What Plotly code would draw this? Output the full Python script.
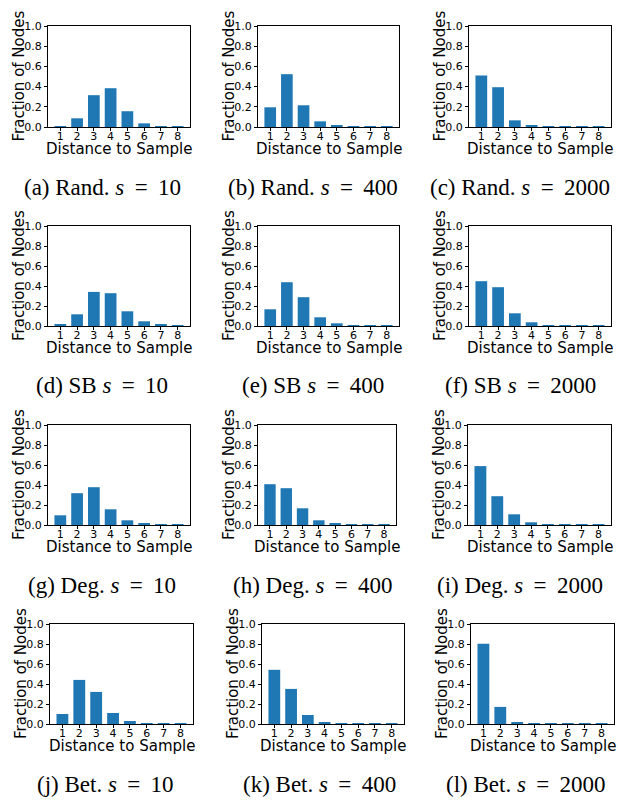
import plotly.graph_objects as go

distances = [1, 2, 3, 4, 5, 6, 7, 8]
x_tick_labels = ["1", "2", "3", "4", "5", "6", "7", "8"]
y_tick_vals = [0.0, 0.2, 0.4, 0.6, 0.8, 1.0]
y_tick_labels = ["0.0", "0.2", "0.4", "0.6", "0.8", "1.0"]

rand_s10 = [0.001, 0.086, 0.315, 0.384, 0.156, 0.036, 0.003, 0.001]
rand_s400 = [0.195, 0.523, 0.215, 0.056, 0.015, 0.002, 0.001, 0.0005]
rand_s2000 = [0.51, 0.394, 0.066, 0.015, 0.002, 0.001, 0.001, 0.0005]
sb_s10 = [0.017, 0.117, 0.341, 0.328, 0.147, 0.047, 0.015, 0.003]
sb_s400 = [0.167, 0.438, 0.288, 0.087, 0.027, 0.004, 0.002, 0.001]
sb_s2000 = [0.448, 0.388, 0.127, 0.037, 0.004, 0.002, 0.002, 0.002]
deg_s10 = [0.097, 0.318, 0.378, 0.157, 0.047, 0.017, 0.008, 0.006]
deg_s400 = [0.408, 0.368, 0.167, 0.047, 0.017, 0.006, 0.006, 0.006]
deg_s2000 = [0.589, 0.288, 0.107, 0.027, 0.006, 0.006, 0.006, 0.006]
bet_s10 = [0.10, 0.441, 0.321, 0.11, 0.03, 0.01, 0.004, 0.003]
bet_s400 = [0.542, 0.351, 0.09, 0.02, 0.01, 0.005, 0.005, 0.005]
bet_s2000 = [0.803, 0.171, 0.02, 0.004, 0.004, 0.004, 0.004, 0.004]

series = [rand_s10, rand_s400, rand_s2000,
          sb_s10, sb_s400, sb_s2000,
          deg_s10, deg_s400, deg_s2000,
          bet_s10, bet_s400, bet_s2000]

EQ = "&#8201;=&#8201;"
captions = [f"(a) Rand. <i>s</i> {EQ} 10", f"(b) Rand. <i>s</i> {EQ} 400", f"(c) Rand. <i>s</i> {EQ} 2000",
            f"(d) SB <i>s</i> {EQ} 10", f"(e) SB <i>s</i> {EQ} 400", f"(f) SB <i>s</i> {EQ} 2000",
            f"(g) Deg. <i>s</i> {EQ} 10", f"(h) Deg. <i>s</i> {EQ} 400", f"(i) Deg. <i>s</i> {EQ} 2000",
            f"(j) Bet. <i>s</i> {EQ} 10", f"(k) Bet. <i>s</i> {EQ} 400", f"(l) Bet. <i>s</i> {EQ} 2000"]

W, H = 618, 800

# panel frames in pixels: (left, right) per row/col, (top, bottom) per row
rows_tb = [(26, 127), (226, 326), (425, 525), (624, 724)]
cols_lr = [
    [(48, 190), (258, 399), (469, 611)],
    [(48, 190), (258, 399), (469, 611)],
    [(48, 190), (258, 396), (468, 611)],
    [(50, 193), (262, 404), (471, 614)],
]
cap_x = [
    [102, 313, 520],
    [102, 313, 520],
    [102, 313, 520],
    [105, 319, 526],
]


def px_x(x):
    return x / W


def px_y(y):
    return 1 - y / H


BLUE = "#1f77b4"
SANS = "DejaVu Sans"
SERIF = "Liberation Serif"

fig = go.Figure()
layout = dict(width=W, height=H, margin=dict(l=0, r=0, t=0, b=0, autoexpand=False),
              paper_bgcolor="white", plot_bgcolor="white", showlegend=False)
annotations = []

for i, vals in enumerate(series):
    r, c = divmod(i, 3)
    top, bottom = rows_tb[r]
    left, right = cols_lr[r][c]
    n = i + 1
    xa = "x" if n == 1 else f"x{n}"
    ya = "y" if n == 1 else f"y{n}"
    fig.add_trace(go.Bar(x=distances, y=vals, xaxis=xa, yaxis=ya,
                         marker=dict(color=BLUE, line=dict(width=0)), width=0.7))
    axis_common = dict(showgrid=False, zeroline=False, showline=True, mirror=True,
                       linecolor="black", linewidth=1, ticks="outside", ticklen=3,
                       tickcolor="black", automargin=False,
                       tickfont=dict(family=SANS, size=11, color="black"))
    layout[f"xaxis{'' if n == 1 else n}"] = dict(
        domain=[px_x(left), px_x(right)], anchor=ya, range=[0.265, 8.735],
        tickmode="array", tickvals=distances, ticktext=x_tick_labels,
        ticklabelstandoff=-4, **axis_common)
    layout[f"yaxis{'' if n == 1 else n}"] = dict(
        domain=[px_y(bottom), px_y(top)], anchor=xa, range=[0, 1.0],
        tickmode="array", tickvals=y_tick_vals, ticktext=y_tick_labels, **axis_common)
    annotations.append(dict(text="Distance to Sample", xref="paper", yref="paper",
                            x=px_x((left + right) / 2), y=px_y(bottom + 22),
                            xanchor="center", yanchor="middle", showarrow=False,
                            font=dict(family=SANS, size=15, color="black")))
    annotations.append(dict(text="Fraction of Nodes", xref="paper", yref="paper",
                            x=px_x(left - 29), y=px_y((top + bottom) / 2),
                            xanchor="center", yanchor="middle", showarrow=False, textangle=-90,
                            font=dict(family=SANS, size=15, color="black")))
    annotations.append(dict(text=captions[i], xref="paper", yref="paper",
                            x=px_x(cap_x[r][c]), y=px_y(bottom + 60),
                            xanchor="center", yanchor="middle", showarrow=False,
                            font=dict(family=SERIF, size=23, color="black")))

layout["annotations"] = annotations
fig.update_layout(**layout)
fig.write_html("out.html", config={"displayModeBar": False},
               post_script="document.body.style.margin='0';document.body.style.overflow='hidden';")
